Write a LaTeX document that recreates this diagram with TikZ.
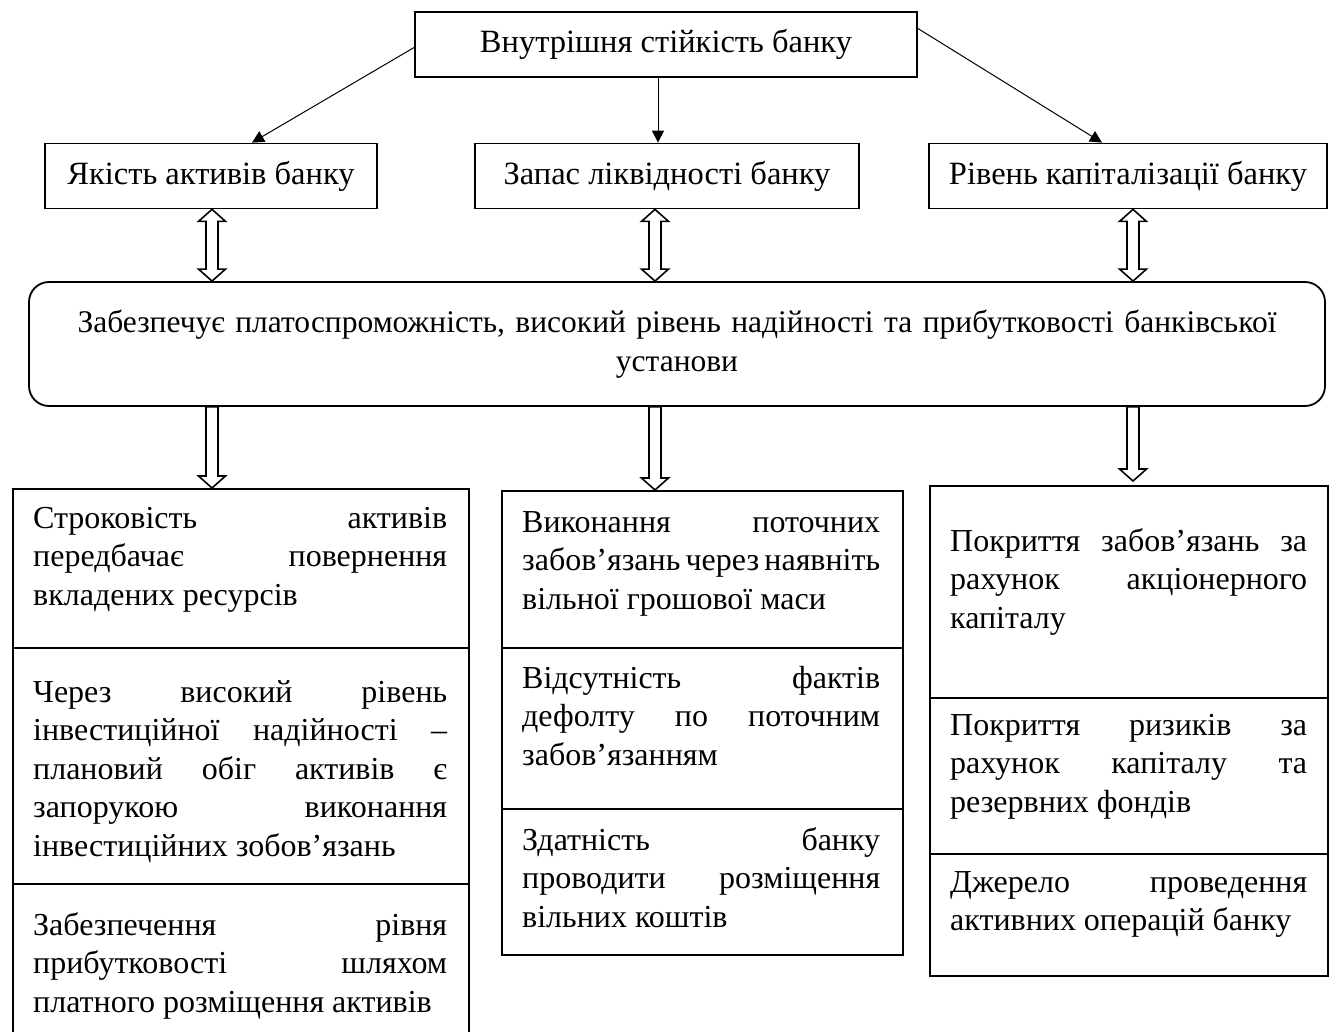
\documentclass[tikz,border=0pt]{standalone}
\usepackage{fontspec}
\setmainfont{Liberation Serif}
\usetikzlibrary{arrows.meta,calc}
\newcommand\blockdbl[2]{\draw[blk] let \p1=#1, \p2=#2 in
  (\x1,\y1) -- (\x1+13.5pt,\y1-12pt) -- (\x1+6pt,\y1-12pt) -- (\x1+6pt,\y2+12pt)
  -- (\x1+13.5pt,\y2+12pt) -- (\x1,\y2) -- (\x1-13.5pt,\y2+12pt) -- (\x1-6pt,\y2+12pt)
  -- (\x1-6pt,\y1-12pt) -- (\x1-13.5pt,\y1-12pt) -- cycle;}
\newcommand\blockdown[2]{\draw[blk] let \p1=#1, \p2=#2 in
  (\x1-6pt,\y1) -- (\x1+6pt,\y1) -- (\x1+6pt,\y2+12pt) -- (\x1+13.5pt,\y2+12pt)
  -- (\x1,\y2) -- (\x1-13.5pt,\y2+12pt) -- (\x1-6pt,\y2+12pt) -- cycle;}
\newcommand\jst{\tolerance=10000\hyphenpenalty=10000\emergencystretch=0pt
  \spaceskip=0.25em plus 0.5em minus 0.15em\relax}
\begin{document}
\begin{tikzpicture}[x=1pt,y=-1pt,
  every node/.style={font=\fontsize{32.5}{38.5}\selectfont},
  box/.style={draw, line width=1.8pt, rectangle, inner sep=0pt},
  cell/.style={draw, line width=1.8pt, rectangle, inner sep=0pt, anchor=north west},
  txt/.style={inner sep=0pt, anchor=base west, font=\fontsize{32}{38.5}\selectfont},
  thinarrow/.style={line width=1pt, -{Triangle[length=12pt,width=12pt]}},
  blk/.style={draw, line width=1.6pt, fill=white, line join=miter}]
\useasboundingbox (0,0) rectangle (1333,1032);
\fill[white] (0,0) rectangle (1333,1032);

% top level
\node[box, minimum width=502pt, minimum height=65pt] (top) at (666,44.5) {Внутрішня стійкість банку};
\node[box, minimum width=332pt, minimum height=65pt] (q1) at (211,176) {Якість активів банку};
\node[box, minimum width=384pt, minimum height=65pt] (q2) at (667,176) {Запас ліквідності банку};
\node[box, minimum width=398pt, minimum height=65pt] (q3) at (1128,176) {Рівень капіталізації банку};

\node[box, rounded corners=20pt, minimum width=1296pt, minimum height=124pt,
  text width=1290pt, align=center, font=\fontsize{31.5}{38.5}\selectfont] (main) at (677,344)
  {Забезпечує платоспроможність, високий рівень надійності та прибутковості банківської\\установи};

% thin arrows
\draw[thinarrow] ([yshift=-3pt]top.west) -- ([xshift=41pt]q1.north);
\draw[thinarrow] ([xshift=-8pt]top.south) -- ([xshift=-9pt]q2.north);
\draw[thinarrow] ([yshift=16pt]top.east) -- ([xshift=-26pt]q3.north);

% columns
\coordinate (a1) at (212,0);
\coordinate (a2) at (655,0);
\coordinate (a3) at (1133,0);

\node[cell, minimum width=456pt, minimum height=159pt] (l1) at (12,488) {};
\node[cell, minimum width=456pt, minimum height=236pt] (l2) at (12,647) {};
\node[cell, minimum width=456pt, minimum height=170pt] (l3) at (12,883) {};

\node[cell, minimum width=401pt, minimum height=157pt] (m1) at (501,490) {};
\node[cell, minimum width=401pt, minimum height=161pt] (m2) at (501,647) {};
\node[cell, minimum width=401pt, minimum height=146pt] (m3) at (501,808) {};

\node[cell, minimum width=398pt, minimum height=212pt] (r1) at (929,485) {};
\node[cell, minimum width=398pt, minimum height=156pt] (r2) at (929,697) {};
\node[cell, minimum width=398pt, minimum height=122pt] (r3) at (929,853) {};

% block arrows
\blockdbl{(a1 |- q1.south)}{(a1 |- main.north)}
\blockdbl{(a2 |- q2.south)}{(a2 |- main.north)}
\blockdbl{(a3 |- q3.south)}{(a3 |- main.north)}
\blockdown{(a1 |- main.south)}{(a1 |- l1.north)}
\blockdown{(a2 |- main.south)}{(a2 |- m1.north)}
\blockdown{(a3 |- main.south)}{($(a3 |- r1.north)+(0,-4)$)}

% texts
\node[txt] (tl1) at (33,528) {\parbox[t]{414pt}{\jst Строковість активів\linebreak передбачає повернення\linebreak вкладених ресурсів}};
\node[txt] (tl2) at (33,702) {\parbox[t]{414pt}{\jst Через високий рівень\linebreak інвестиційної надійності –\linebreak плановий обіг активів є\linebreak запорукою виконання\linebreak інвестиційних зобов’язань}};
\node[txt] (tl3) at (33,935) {\parbox[t]{414pt}{\jst Забезпечення рівня\linebreak прибутковості шляхом\linebreak платного розміщення активів}};

\node[txt] (tm1) at (522,532) {\parbox[t]{358pt}{\jst Виконання поточних\linebreak забов’язань через наявніть\linebreak вільної грошової маси}};
\node[txt] (tm2) at (522,688) {\parbox[t]{358pt}{\jst Відсутність фактів\linebreak дефолту по поточним\linebreak забов’язанням}};
\node[txt] (tm3) at (522,850) {\parbox[t]{358pt}{\jst Здатність банку\linebreak проводити розміщення\linebreak вільних коштів}};

\node[txt] (tr1) at (950,551) {\parbox[t]{357pt}{\jst Покриття забов’язань за\linebreak рахунок акціонерного\linebreak капіталу}};
\node[txt] (tr2) at (950,735) {\parbox[t]{357pt}{\jst Покриття ризиків за\linebreak рахунок капіталу та\linebreak резервних фондів}};
\node[txt] (tr3) at (950,892) {\parbox[t]{357pt}{\jst Джерело проведення\linebreak активних операцій банку}};
\end{tikzpicture}
\end{document}
